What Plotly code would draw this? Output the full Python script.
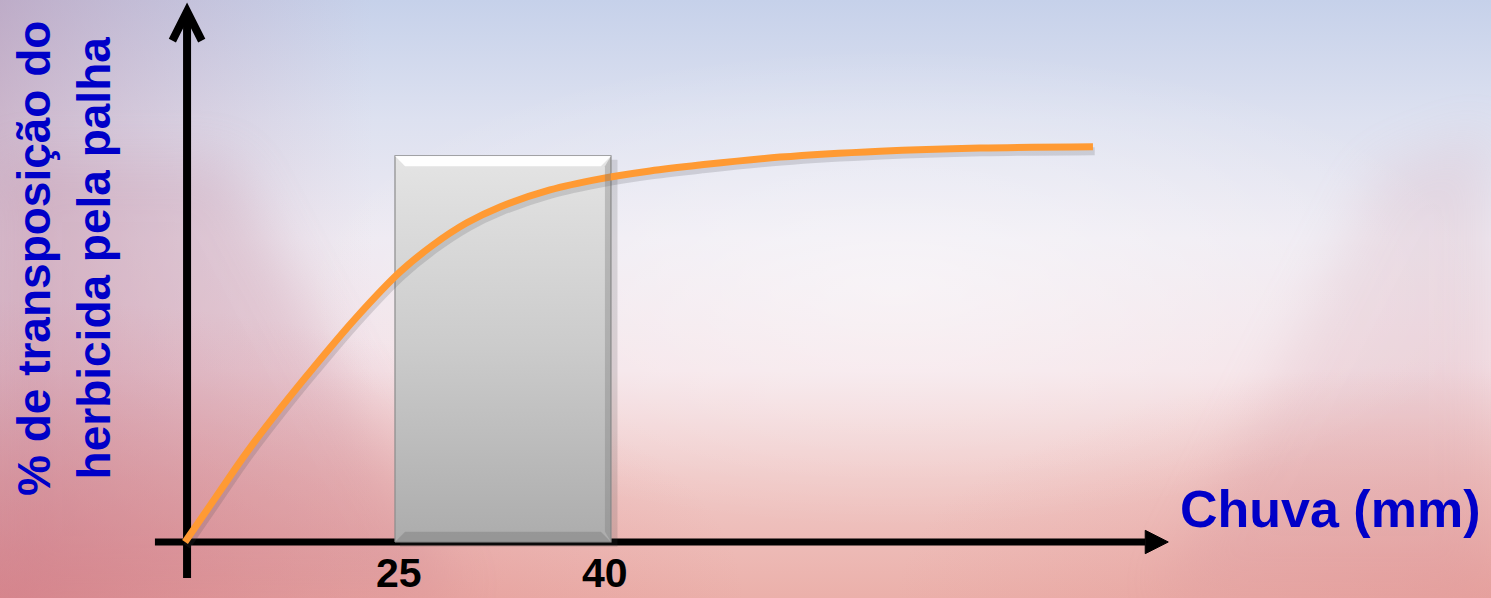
import base64
import plotly.graph_objects as go

# ---------------- data ----------------
CURVE_X = [10.42, 12.57, 14.72, 17.01, 19.31, 22.29, 25.35, 27.64, 29.99, 32.29,
           35.76, 39.24, 42.71, 46.18, 51.74, 58.68, 65.63, 73.47]
CURVE_Y = [0.0, 11.4, 22.7, 33.6, 43.9, 56.6, 68.2, 75.0, 80.6, 84.6,
           88.9, 91.7, 93.7, 95.2, 97.2, 98.7, 99.5, 99.8]
BAR_RANGE = [25, 40]          # mm, rain interval highlighted
BAR_HEIGHT = 97.5
TICK_VALUES = [25, 40]
TICK_LABELS = ["25", "40"]
X_TITLE = "Chuva (mm)"
Y_TITLE = "% de transposição do<br>herbicida pela palha"

# ---------------- layout constants ----------------
W, H = 1491, 598
XR = [-2.43, -2.43 + W / 14.4]
YR = [-(H - 542) / 3.96, 542 / 3.96]
ORIGIN_X = 10.56
AX_X_END = 77.1
AX_X_TIP = 78.7
AX_X_START = 8.33
AX_Y_START = -9.1
AX_Y_TIP = 134.6
BLUE = "#0000C8"
ORANGE = "#FF9A33"
FONT = "Liberation Sans, Arial, sans-serif"

# ---------------- background (sunset sky) ----------------
svg = f"""<svg xmlns='http://www.w3.org/2000/svg' width='{W}' height='{H}' viewBox='0 0 {W} {H}' preserveAspectRatio='none'>
<defs>
<linearGradient id='v' x1='0' y1='0' x2='0' y2='1'>
<stop offset='0' stop-color='#c6d1ea'/>
<stop offset='0.2' stop-color='#dde1f0'/>
<stop offset='0.4' stop-color='#eeeaf2'/>
<stop offset='0.62' stop-color='#f4e2e7'/>
<stop offset='0.8' stop-color='#f0c8c6'/>
<stop offset='1' stop-color='#ebb0aa'/>
</linearGradient>
<linearGradient id='l' x1='0' y1='0' x2='1' y2='0'>
<stop offset='0' stop-color='#b07090' stop-opacity='0.38'/>
<stop offset='0.25' stop-color='#c890a8' stop-opacity='0'/>
</linearGradient>
<radialGradient id='bl' cx='0' cy='1' r='0.5'>
<stop offset='0' stop-color='#d8747a' stop-opacity='0.5'/>
<stop offset='1' stop-color='#d8747a' stop-opacity='0'/>
</radialGradient>
<radialGradient id='br' cx='1' cy='1' r='0.4'>
<stop offset='0' stop-color='#e08c8c' stop-opacity='0.4'/>
<stop offset='1' stop-color='#e08c8c' stop-opacity='0'/>
</radialGradient>
<radialGradient id='c' cx='0.6' cy='0.48' r='0.4'>
<stop offset='0' stop-color='#ffffff' stop-opacity='0.5'/>
<stop offset='1' stop-color='#ffffff' stop-opacity='0'/>
</radialGradient>
<filter id='b' x='-50%' y='-50%' width='200%' height='200%'><feGaussianBlur stdDeviation='26'/></filter>
</defs>
<rect width='{W}' height='{H}' fill='url(#v)'/>
<rect width='{W}' height='{H}' fill='url(#l)'/>
<polygon points='0,160 230,160 460,598 0,598' fill='#b87890' opacity='0.2' filter='url(#b)'/>
<polygon points='{W},130 1380,170 1160,598 {W},598' fill='#c88898' opacity='0.16' filter='url(#b)'/>
<rect width='{W}' height='{H}' fill='url(#bl)'/>
<rect width='{W}' height='{H}' fill='url(#br)'/>
<rect width='{W}' height='{H}' fill='url(#c)'/>
</svg>"""
bg_src = "data:image/svg+xml;base64," + base64.b64encode(svg.encode("utf-8")).decode("ascii")

fig = go.Figure()

# bar drop shadow
x0, x1 = BAR_RANGE
fig.add_trace(go.Scatter(
    x=[x0 + 0.35, x1 + 0.45, x1 + 0.45, x0 + 0.35, x0 + 0.35],
    y=[-1.2, -1.2, BAR_HEIGHT - 1.0, BAR_HEIGHT - 1.0, -1.2],
    mode="lines", fill="toself", fillcolor="rgba(60,60,60,0.16)",
    line=dict(width=0), hoverinfo="skip"))

# the grey bar (rain interval)
fig.add_trace(go.Scatter(
    x=[x0, x1, x1, x0, x0],
    y=[0, 0, BAR_HEIGHT, BAR_HEIGHT, 0],
    mode="lines", fill="toself",
    fillgradient=dict(type="vertical",
                      colorscale=[[0, "#acacac"], [0.5, "#cbcbcb"], [1, "#e4e4e4"]]),
    line=dict(color="#8c8c8c", width=1.2), hoverinfo="skip"))

# curve shadow
fig.add_trace(go.Scatter(
    x=[v + 0.12 for v in CURVE_X], y=[v - 1.1 for v in CURVE_Y],
    mode="lines", line=dict(color="rgba(70,70,80,0.18)", width=8, shape="spline", smoothing=1.0),
    hoverinfo="skip"))

# orange curve
fig.add_trace(go.Scatter(
    x=CURVE_X, y=CURVE_Y, mode="lines",
    line=dict(color=ORANGE, width=7, shape="spline", smoothing=1.0),
    hoverinfo="skip"))

dx, dy = 0.7, 2.6
shapes = [
    # bar bevels
    dict(type="path", xref="x", yref="y", layer="above", line=dict(width=0),
         fillcolor="rgba(255,255,255,0.95)",
         path=f"M {x0},{BAR_HEIGHT} L {x1},{BAR_HEIGHT} L {x1-dx},{BAR_HEIGHT-dy} L {x0+dx},{BAR_HEIGHT-dy} Z"),
    dict(type="path", xref="x", yref="y", layer="above", line=dict(width=0),
         fillcolor="rgba(120,120,120,0.35)",
         path=f"M {x1},{BAR_HEIGHT} L {x1},0 L {x1-dx*0.6},{dy} L {x1-dx*0.6},{BAR_HEIGHT-dy} Z"),
    dict(type="path", xref="x", yref="y", layer="above", line=dict(width=0),
         fillcolor="rgba(110,110,110,0.35)",
         path=f"M {x0},0 L {x1},0 L {x1-dx},{dy} L {x0+dx},{dy} Z"),
    # x axis
    dict(type="line", xref="x", yref="y", layer="below",
         x0=AX_X_START, x1=AX_X_END, y0=0, y1=0, line=dict(color="black", width=7)),
    dict(type="path", xref="x", yref="y", layer="below", fillcolor="black",
         line=dict(color="black", width=1),
         path=f"M {AX_X_END},2.95 L {AX_X_TIP},0 L {AX_X_END},-2.95 Z"),
    # y axis
    dict(type="line", xref="x", yref="y", layer="below",
         x0=ORIGIN_X, x1=ORIGIN_X, y0=AX_Y_START, y1=AX_Y_TIP - 0.8,
         line=dict(color="black", width=8)),
    dict(type="path", xref="x", yref="y", layer="below",
         line=dict(color="black", width=8),
         path=f"M {ORIGIN_X-1.02},126.6 L {ORIGIN_X},{AX_Y_TIP-0.6} L {ORIGIN_X+1.02},126.6"),
]

annotations = []
for v, t in zip(TICK_VALUES, TICK_LABELS):
    annotations.append(dict(x=v + (0.25 if v == TICK_VALUES[0] else -0.45), y=-7.9,
                            xref="x", yref="y", text=t,
                            showarrow=False, xanchor="center", yanchor="middle",
                            font=dict(family=FONT, size=41, color="black", weight="bold")))
annotations.append(dict(x=1330 / W, y=1 - 509 / H, xref="paper", yref="paper",
                        text=f"<b>{X_TITLE}</b>", showarrow=False,
                        xanchor="center", yanchor="middle",
                        font=dict(family=FONT, size=52, color=BLUE)))
annotations.append(dict(x=64 / W, y=1 - 259 / H, xref="paper", yref="paper",
                        text=f"<b>{Y_TITLE}</b>", showarrow=False, textangle=-90,
                        xanchor="center", yanchor="middle",
                        font=dict(family=FONT, size=46, color=BLUE)))

fig.update_layout(
    width=W, height=H,
    margin=dict(l=0, r=0, t=0, b=0, pad=0),
    paper_bgcolor="#ecdde6", plot_bgcolor="rgba(0,0,0,0)",
    showlegend=False,
    xaxis=dict(range=XR, visible=False, fixedrange=True),
    yaxis=dict(range=YR, visible=False, fixedrange=True),
    shapes=shapes, annotations=annotations,
    images=[dict(source=bg_src, xref="paper", yref="paper", x=0, y=1,
                 sizex=1, sizey=1, sizing="stretch", xanchor="left", yanchor="top",
                 layer="below")],
)

fig.write_html("out.html", config=dict(displayModeBar=False, staticPlot=True),
               post_script="document.body.style.margin='0px';document.body.style.overflow='hidden';")
